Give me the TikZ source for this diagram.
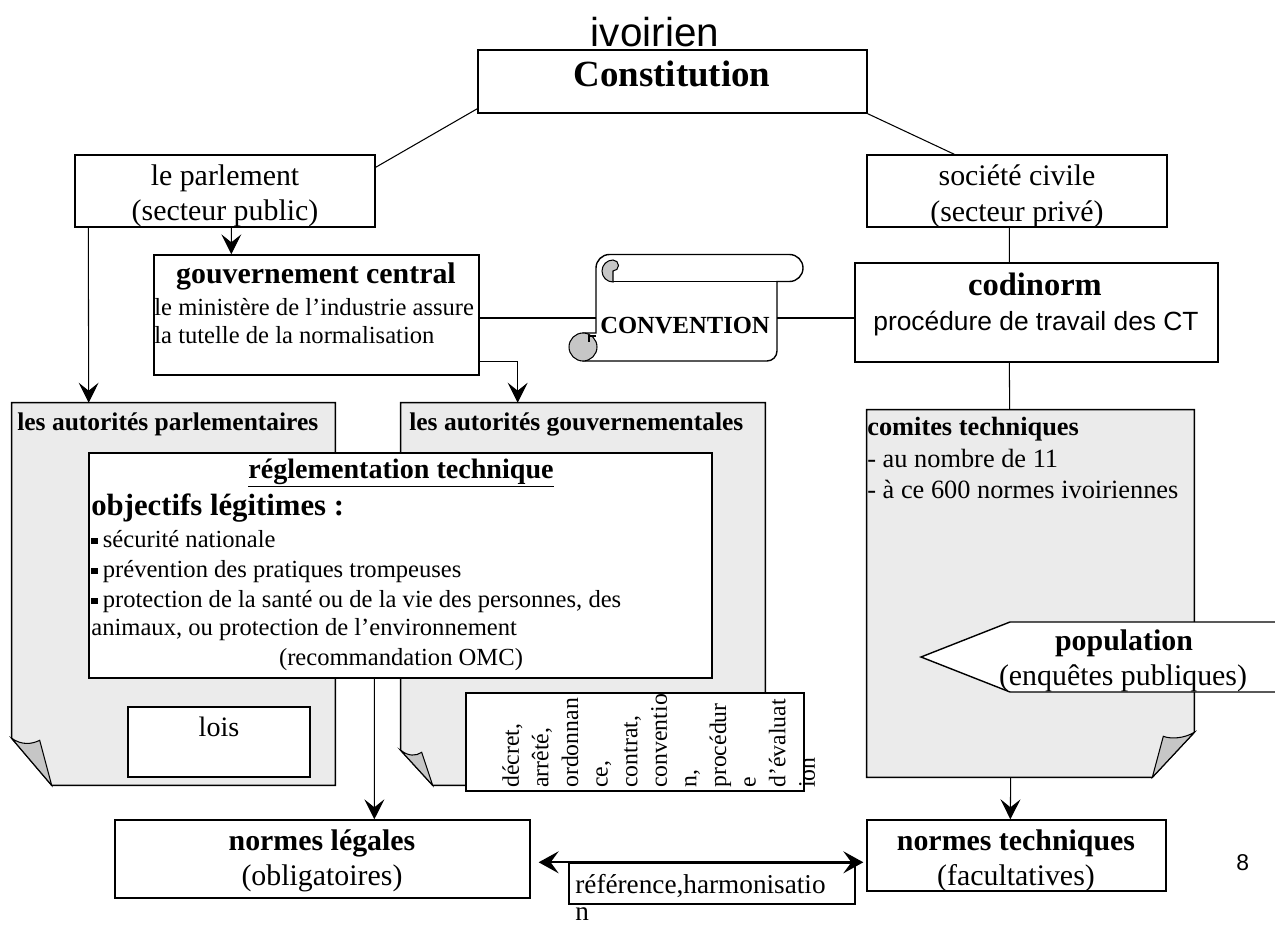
\documentclass[tikz,border=0pt]{standalone}
\usepackage{fontspec}
\setmainfont{Liberation Serif}
\setsansfont{Liberation Sans}
\usetikzlibrary{calc, arrows.meta}

\newcommand{\sqbul}{\rule[0.6mm]{1.3mm}{1.3mm}\hspace{1mm}}

\begin{document}
\begin{tikzpicture}
    [
      x=0.02cm, y=-0.02cm,
      box/.style = {draw, fill=white, line width=0.8pt, inner sep=0pt},
      pagebox/.style = {inner sep=0pt},
      page/.style = {draw, fill=gray!16, line width=0.8pt},
      curl/.style = {draw, fill=gray!45, line width=0.6pt},
      txt/.style = {inner sep=0pt, anchor=base},
      ltxt/.style = {inner sep=0pt, anchor=base west},
      link/.style = {line width=0.6pt},
      arr/.style = {line width=0.6pt, -{Stealth[length=4mm, width=4mm, inset=1.6mm]}},
      dblarr/.style = {line width=1pt, {Stealth[length=4mm, width=4.4mm, inset=1.6mm]}-{Stealth[length=4mm, width=4.4mm, inset=1.6mm]}},
      big/.style = {font=\fontsize{17}{20}\selectfont},
      bigb/.style = {font=\fontsize{17}{20}\selectfont\bfseries},
      small/.style = {font=\fontsize{14}{17}\selectfont},
      smallb/.style = {font=\fontsize{14.5}{17}\selectfont\bfseries}
    ]
    \useasboundingbox (0,0) rectangle (1275,926);

    % pages
    \node[pagebox, minimum width=6.46cm, minimum height=7.64cm] (apar) at (173.5,594) {};
    \draw[page] (apar.north west) -- (apar.north east) -- (apar.south east)
      -- ($(apar.south west)+(40,0)$) -- ($(apar.south west)+(0,-47)$) -- cycle;
    \draw[curl] ($(apar.south west)+(0,-47)$) .. controls +(10,7) and +(-8,4) .. ($(apar.south west)+(28,-45)$)
      -- ($(apar.south west)+(40,0)$) -- cycle;

    \node[pagebox, minimum width=7.28cm, minimum height=7.64cm] (agou) at (583,594) {};
    \draw[page] (agou.north west) -- (agou.north east) -- (agou.south east)
      -- ($(agou.south west)+(32,0)$) -- ($(agou.south west)+(0,-35)$) -- cycle;
    \draw[curl] ($(agou.south west)+(0,-35)$) .. controls +(8,6) and +(-6,4) .. ($(agou.south west)+(21,-33)$)
      -- ($(agou.south west)+(32,0)$) -- cycle;

    \node[pagebox, minimum width=6.54cm, minimum height=7.34cm] (acom) at (1030.5,593.5) {};
    \draw[page] (acom.north west) -- (acom.north east) -- ($(acom.south east)+(0,-45)$)
      -- ($(acom.south east)+(-42,0)$) -- (acom.south west) -- cycle;
    \draw[curl] ($(acom.south east)+(0,-45)$) .. controls +(-10,6) and +(8,3) .. ($(acom.south east)+(-31,-41)$)
      -- ($(acom.south east)+(-42,0)$) -- cycle;

    % boxes
    \node[box, minimum width=7.78cm, minimum height=1.26cm] (const) at (672.5,81.5) {};
    \node[box, minimum width=6cm, minimum height=1.44cm] (parl) at (225,191) {};
    \node[box, minimum width=6cm, minimum height=1.44cm] (soc) at (1017,191) {};
    \node[box, minimum width=6.5cm, minimum height=2.4cm] (gouv) at (316.5,315) {};
    \node[box, minimum width=7.26cm, minimum height=1.98cm] (codi) at (1036.5,312.5) {};
    \node[box, minimum width=12.46cm, minimum height=4.5cm] (regl) at (400.5,565.5) {};
    \node[box, minimum width=3.64cm, minimum height=1.4cm] (lois) at (219,742) {};
    \node[box, minimum width=6.76cm, minimum height=1.96cm] (decr) at (635,742) {};
    \node[box, minimum width=8.3cm, minimum height=1.56cm] (nl) at (322.5,859) {};
    \node[box, minimum width=5.98cm, minimum height=1.42cm] (nt) at (1016.5,855.5) {};
    \node[box, minimum width=5.72cm, minimum height=0.82cm] (ref) at (712,883.5) {};

    % population
    \draw[box] (921,657) -- (1010,622) -- (1290,622) -- (1290,692) -- (1010,692) -- cycle;

    % convention scroll
    \node[pagebox, minimum width=3.62cm, minimum height=1.2cm] (conv) at (686.5,318) {};
    \draw[box] (596,268) arc[start angle=180, end angle=270, radius=13.5] -- (789.5,254.5)
      arc[start angle=270, end angle=450, radius=13.5] -- (777,281.5) -- (777,351)
      arc[start angle=0, end angle=90, radius=10] -- (583,361) -- (583,333) -- (596,333) -- cycle;
    \draw[link] (613,281.5) -- (777,281.5);
    \draw[curl] (613,282) arc[start angle=90, end angle=270, radius=11]
      arc[start angle=270, end angle=450, radius=5.5] -- cycle;
    \draw[curl] (583,347) circle[radius=14];
    \draw[link] (596,336) -- (589,336) -- (589,342);

    % texts
    \node[txt, font=\sffamily\fontsize{23}{26}\selectfont] (ivo) at (655,47) {ivoirien};
    \node[txt, font=\fontsize{21}{24}\selectfont\bfseries] (constT) at (672,87) {Constitution};
    \node[txt, big] (parlT1) at (225,185) {le parlement};
    \node[txt, big] (parlT2) at (225,220) {(secteur public)};
    \node[txt, big] (socT1) at (1017,185) {société civile};
    \node[txt, big] (socT2) at (1017,221) {(secteur privé)};
    \node[txt, bigb] (gouvT) at (316,283) {gouvernement central};
    \node[ltxt, small] (gouvT1) at (154,315) {le ministère de l’industrie assure};
    \node[ltxt, small] (gouvT2) at (154,343) {la tutelle de la normalisation};
    \node[txt, font=\fontsize{14}{17}\selectfont\bfseries] (convT) at (685,333) {CONVENTION};
    \node[txt, font=\fontsize{18.5}{22}\selectfont\bfseries] (codiT) at (1035,295) {codinorm};
    \node[txt, font=\sffamily\fontsize{15}{18}\selectfont] (codiT2) at (1036,330) {procédure de travail des CT};

    \node[ltxt, smallb] (aparT) at (17,430) {les autorités parlementaires};
    \node[ltxt, smallb] (agouT) at (409,430) {les autorités gouvernementales};
    \node[ltxt, font=\fontsize{15}{18}\selectfont\bfseries] (acomT) at (867,435) {comites techniques};
    \node[ltxt, font=\fontsize{15}{18}\selectfont] (acomT1) at (867,467) {- au nombre de 11};
    \node[ltxt, font=\fontsize{15}{18}\selectfont] (acomT2) at (867,498) {- à ce 600 normes ivoiriennes};

    \node[txt, font=\fontsize{16}{19}\selectfont\bfseries] (reglT) at (401,478) {\underline{réglementation technique}};
    \node[ltxt, font=\fontsize{17.5}{20}\selectfont\bfseries] (reglT1) at (91,515) {objectifs légitimes :};
    \node[ltxt, small] (reglT2) at (91,547) {\sqbul sécurité nationale};
    \node[ltxt, small] (reglT3) at (91,577) {\sqbul prévention des pratiques trompeuses};
    \node[ltxt, small] (reglT4) at (91,607) {\sqbul protection de la santé ou de la vie des personnes, des};
    \node[ltxt, small] (reglT5) at (91,635) {animaux, ou protection de l’environnement};
    \node[txt, small] (reglT6) at (401,665) {(recommandation OMC)};

    \node[txt, font=\fontsize{16}{19}\selectfont] (loisT) at (219,736) {lois};
    \node[rotate=90, anchor=north west, align=left, inner sep=0pt, font=\fontsize{13.5}{16.85}\selectfont] (decrT)
      at (502,788) {décret,\\arrêté,\\ordonnan\\ce,\\contrat,\\conventio\\n,\\procédur\\e\\d’évaluat\\ion};

    \node[txt, bigb] (popT1) at (1124,650) {population};
    \node[txt, big] (popT2) at (1123,685) {(enquêtes publiques)};
    \node[txt, bigb] (nlT1) at (322,850) {normes légales};
    \node[txt, big] (nlT2) at (322,885) {(obligatoires)};
    \node[txt, bigb] (ntT1) at (1016,850) {normes techniques};
    \node[txt, big] (ntT2) at (1016,885) {(facultatives)};
    \node[ltxt, font=\fontsize{15.5}{18}\selectfont] (refT1) at (575,893) {référence,harmonisatio};
    \node[ltxt, font=\fontsize{15.5}{18}\selectfont] (refT2) at (575,920) {n};
    \node[ltxt, font=\sffamily\fontsize{13}{15}\selectfont] (pnum) at (1236,870) {8};

    % connectors
    \draw[link] ($(const.south west)+(0,-5)$) -- ($(parl.north east)+(0,13)$);
    \draw[link] (const.south east) -- ($(soc.north west)+(88,0)$);
    \draw[arr] ($(parl.south west)+(14,0)$) -- ($(apar.north west)+(77,0)$);
    \draw[arr] ($(parl.south west)+(157,0)$) -- ($(gouv.north west)+(78,0)$);
    \draw[arr] ($(gouv.south east)+(0,-14)$) -| ($(agou.north west)+(117,0)$);
    \draw[link] (gouv.east |- conv.west) -- (conv.west);
    \draw[link] (conv.east) -- (codi.west |- conv.east);
    \draw[link] ($(soc.south west)+(143,0)$) -- ($(codi.north west)+(155,0)$);
    \draw[link] ($(codi.south west)+(155,0)$) -- ($(acom.north west)+(143,0)$);
    \draw[arr] ($(regl.south west)+(286,0)$) -- ($(nl.north west)+(260,0)$);
    \draw[arr] ($(acom.south west)+(144,0)$) -- ($(nt.north west)+(144,0)$);
    \draw[dblarr] ($(nl.east |- ref.north)+(8,0)$) -- ($(nt.west |- ref.north)+(-3,0)$);
\end{tikzpicture}
\end{document}
